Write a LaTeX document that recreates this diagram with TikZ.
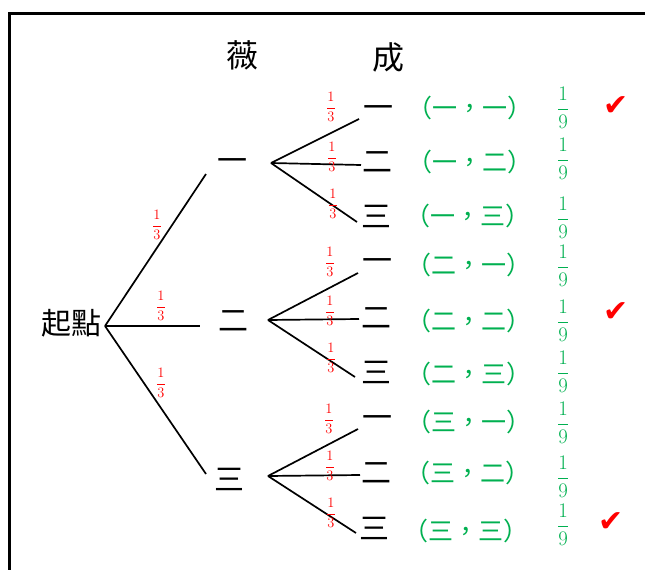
\documentclass[tikz,border=0pt]{standalone}
\usepackage{amsmath}
\usepackage{fontspec}
\newfontfamily\cjk{Noto Sans CJK TC}
\newfontfamily\sym{DejaVu Sans}
\usepackage{tikz}
\usetikzlibrary{positioning}
\definecolor{pgreen}{RGB}{0,176,80}
\definecolor{pred}{RGB}{255,0,0}
\newcommand{\third}{$\genfrac{}{}{0.6pt}{0}{1}{3}$}
\newcommand{\ninth}{$\genfrac{}{}{1.6pt}{0}{1}{9}$}

\begin{document}
\begin{tikzpicture}[x=1pt,y=-1pt,every node/.style={inner sep=0pt},
  zi/.style={font=\cjk\fontsize{30}{30}\selectfont},
  pr/.style={text=pred,font=\fontsize{14}{14}\selectfont},
  pair/.style={text=pgreen,font=\cjk\fontsize{25}{25}\selectfont},
  nine/.style={text=pgreen,font=\fontsize{20}{20}\selectfont},
  ok/.style={text=pred,font=\sym\fontsize{30}{30}\selectfont},
  br/.style={line width=1.7pt}]
\useasboundingbox (0,0) rectangle (645,570);
% frame: only top and left edges show
\draw[line width=3pt] (9,580) -- (9,13) -- (650,13);
% titles
\node[font=\cjk\fontsize{32}{32}\selectfont] (wei) at (242,55) {薇};
\node[font=\cjk\fontsize{32}{32}\selectfont] (cheng) at (388,57) {成};
% root and first draw
\node[font=\cjk\fontsize{30}{30}\selectfont] (start) at (71,323) {起點};
\coordinate (r) at (105,326);
\node[zi] (a1) at (232,165) {一};
\node[zi] (a2) at (233,321) {二};
\node[zi] (a3) at (229,479) {三};
\coordinate (e1) at (206,174);
\coordinate (e2) at (200,326);
\coordinate (e3) at (206,474);
\draw[br] (r) -- (e1);
\draw[br] (r) -- (e2);
\draw[br] (r) -- (e3);
\node[pr,font=\fontsize{15}{15}\selectfont] (p1) at (157,225) {\third};
\node[pr,font=\fontsize{15}{15}\selectfont] (p2) at (161,306) {\third};
\node[pr,font=\fontsize{15}{15}\selectfont] (p3) at (161,383) {\third};
% second draw, branch one
\coordinate (f1) at (271,163);
\node[zi] (b11) at (378,112) {一};
\node[zi] (b12) at (377,162) {二};
\node[zi] (b13) at (376,216) {三};
\coordinate (g11) at (359,119);
\coordinate (g12) at (361,165);
\coordinate (g13) at (357,222);
\draw[br] (f1) -- (g11);
\draw[br] (f1) -- (g12);
\draw[br] (f1) -- (g13);
\node[pr] (q11) at (331,107) {\third};
\node[pr] (q12) at (332,157) {\third};
\node[pr] (q13) at (333,204) {\third};
% second draw, branch two
\coordinate (f2) at (268,320);
\node[zi] (b21) at (377,265) {一};
\node[zi] (b22) at (376,318) {二};
\node[zi] (b23) at (376,372) {三};
\coordinate (g21) at (358,273);
\coordinate (g22) at (359,319);
\coordinate (g23) at (355,377);
\draw[br] (f2) -- (g21);
\draw[br] (f2) -- (g22);
\draw[br] (f2) -- (g23);
\node[pr] (q21) at (330,262) {\third};
\node[pr] (q22) at (330,311) {\third};
\node[pr] (q23) at (331,358) {\third};
% second draw, branch three
\coordinate (f3) at (268,476);
\node[zi] (b31) at (377,422) {一};
\node[zi] (b32) at (376,473) {二};
\node[zi] (b33) at (374,528) {三};
\coordinate (g31) at (358,429);
\coordinate (g32) at (360,475);
\coordinate (g33) at (356,533);
\draw[br] (f3) -- (g31);
\draw[br] (f3) -- (g32);
\draw[br] (f3) -- (g33);
\node[pr] (q31) at (329,419) {\third};
\node[pr] (q32) at (330,466) {\third};
\node[pr] (q33) at (331,513) {\third};
% outcomes
\node[pair] (o11) at (470,108) {（一，一）};
\node[pair] (o12) at (470,162) {（一，二）};
\node[pair] (o13) at (468,216) {（一，三）};
\node[pair] (o21) at (469,265) {（二，一）};
\node[pair] (o22) at (469,321) {（二，二）};
\node[pair] (o23) at (469,374) {（二，三）};
\node[pair] (o31) at (469,422) {（三，一）};
\node[pair] (o32) at (468,473) {（三，二）};
\node[pair] (o33) at (466,531) {（三，三）};
% probabilities
\node[nine] (n11) at (563,108) {\ninth};
\node[nine] (n12) at (563,159) {\ninth};
\node[nine] (n13) at (563,218) {\ninth};
\node[nine] (n21) at (563,266) {\ninth};
\node[nine] (n22) at (563,321) {\ninth};
\node[nine] (n23) at (563,372) {\ninth};
\node[nine] (n31) at (563,423) {\ninth};
\node[nine] (n32) at (563,477) {\ninth};
\node[nine] (n33) at (563,525) {\ninth};
% pairs with the same number
\node[ok] (c1) at (616,106) {✔};
\node[ok] (c2) at (616,312) {✔};
\node[ok] (c3) at (611,522) {✔};
\end{tikzpicture}
\end{document}
